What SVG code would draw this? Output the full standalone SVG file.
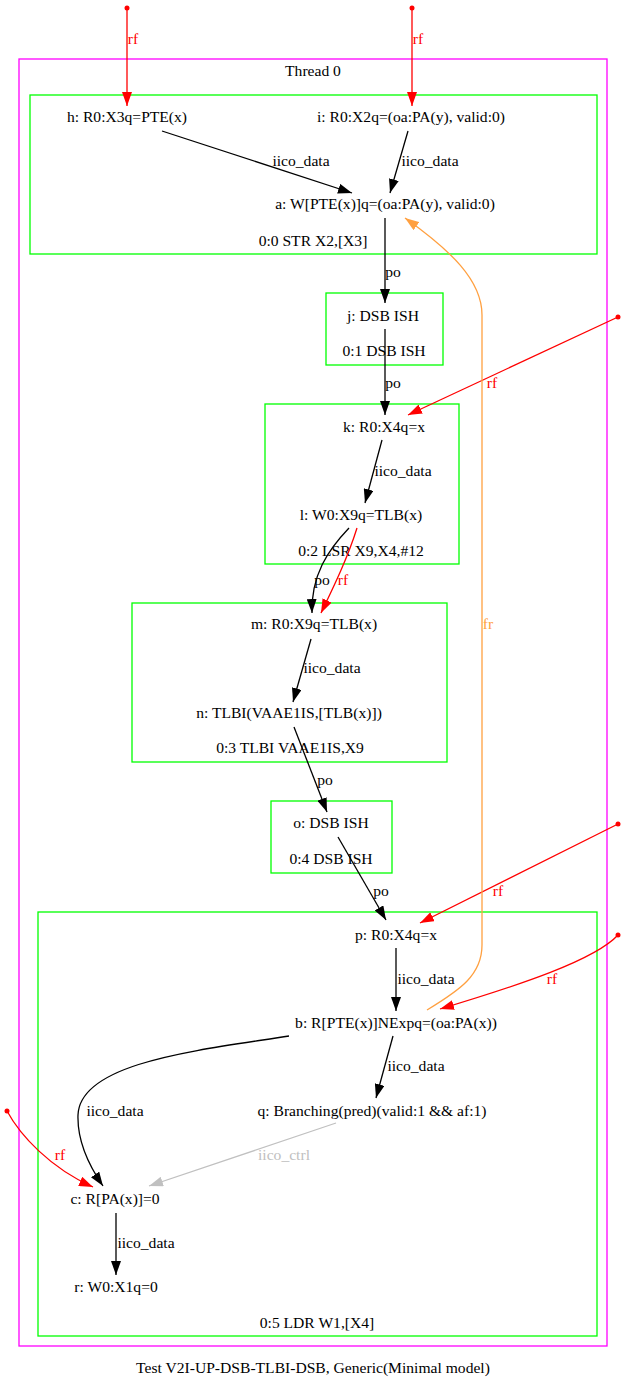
<svg xmlns="http://www.w3.org/2000/svg" width="625" height="1388" viewBox="0 0 625 1388">
<style>
text{font-family:"Liberation Serif","Times New Roman",serif;font-size:15.6px;text-anchor:middle;fill:#000}
.thread{fill:none;stroke:#ff00ff;stroke-width:1.3}
.instr{fill:none;stroke:#00ff00;stroke-width:1.3}
.e{fill:none;stroke:#000;stroke-width:1.3}
.rf{fill:none;stroke:#ff0000;stroke-width:1.3}
.fr{fill:none;stroke:#ffa040;stroke-width:1.3}
.ctrl{fill:none;stroke:#c0c0c0;stroke-width:1.3}
.lrf{fill:#ff0000}
.lfr{fill:#ffa040}
.lctrl{fill:#c0c0c0}
.dot{fill:#ff0000}
</style>
<defs>
<marker id="ak" markerUnits="userSpaceOnUse" markerWidth="14" markerHeight="10" refX="14" refY="5" orient="auto"><path d="M0,0 L14,5 L0,10 z" fill="#000"/></marker>
<marker id="ar" markerUnits="userSpaceOnUse" markerWidth="14" markerHeight="10" refX="14" refY="5" orient="auto"><path d="M0,0 L14,5 L0,10 z" fill="#ff0000"/></marker>
<marker id="ag" markerUnits="userSpaceOnUse" markerWidth="14" markerHeight="10" refX="14" refY="5" orient="auto"><path d="M0,0 L14,5 L0,10 z" fill="#c0c0c0"/></marker>
<marker id="ao" markerUnits="userSpaceOnUse" markerWidth="14" markerHeight="10" refX="14" refY="5" orient="auto"><path d="M0,0 L14,5 L0,10 z" fill="#ffa040"/></marker>
</defs>
<rect width="625" height="1388" fill="#fff"/>
<g id="thread0">
<rect class="thread" x="19" y="59" width="588" height="1287"/>
<text x="313" y="76">Thread 0</text>
</g>
<g id="instr0">
<rect class="instr" x="30" y="95" width="567" height="159"/>
<text x="313" y="246">0:0 STR X2,[X3]</text>
</g>
<g id="instr1">
<rect class="instr" x="326" y="293" width="117" height="72"/>
<text x="384" y="356">0:1 DSB ISH</text>
</g>
<g id="instr2">
<rect class="instr" x="265" y="404" width="194" height="160"/>
<text x="361" y="556">0:2 LSR X9,X4,#12</text>
</g>
<g id="instr3">
<rect class="instr" x="132" y="603" width="315" height="159"/>
<text x="290" y="753">0:3 TLBI VAAE1IS,X9</text>
</g>
<g id="instr4">
<rect class="instr" x="271" y="801" width="121" height="72"/>
<text x="331" y="864">0:4 DSB ISH</text>
</g>
<g id="instr5">
<rect class="instr" x="38" y="912" width="559" height="424"/>
<text x="317" y="1328">0:5 LDR W1,[X4]</text>
</g>
<g id="node-h"><text x="127" y="122">h: R0:X3q=PTE(x)</text></g>
<g id="node-i"><text x="411" y="122">i: R0:X2q=(oa:PA(y), valid:0)</text></g>
<g id="node-a"><text x="385" y="209">a: W[PTE(x)]q=(oa:PA(y), valid:0)</text></g>
<g id="node-j"><text x="383" y="321">j: DSB ISH</text></g>
<g id="node-k"><text x="384" y="432">k: R0:X4q=x</text></g>
<g id="node-l"><text x="361" y="520">l: W0:X9q=TLB(x)</text></g>
<g id="node-m"><text x="314" y="629">m: R0:X9q=TLB(x)</text></g>
<g id="node-n"><text x="289" y="718">n: TLBI(VAAE1IS,[TLB(x)])</text></g>
<g id="node-o"><text x="331" y="828">o: DSB ISH</text></g>
<g id="node-p"><text x="396" y="940">p: R0:X4q=x</text></g>
<g id="node-b"><text x="396" y="1028">b: R[PTE(x)]NExpq=(oa:PA(x))</text></g>
<g id="node-q"><text x="372" y="1116">q: Branching(pred)(valid:1 &amp;&amp; af:1)</text></g>
<g id="node-c"><text x="115" y="1204">c: R[PA(x)]=0</text></g>
<g id="node-r"><text x="116" y="1292">r: W0:X1q=0</text></g>
<g id="connectors">
<circle class="dot" cx="127" cy="8" r="2.5"/>
<path class="rf" d="M127,8 L127,106" marker-end="url(#ar)"/>
<text class="lrf" x="133" y="44">rf</text>
<circle class="dot" cx="412" cy="8" r="2.5"/>
<path class="rf" d="M412,8 L412,106" marker-end="url(#ar)"/>
<text class="lrf" x="418" y="44">rf</text>
<path class="e" d="M162,131 L352,193" marker-end="url(#ak)"/>
<text x="301" y="166">iico_data</text>
<path class="e" d="M408,131 L390,193" marker-end="url(#ak)"/>
<text x="430" y="166">iico_data</text>
<path class="e" d="M385,218 L385,303" marker-end="url(#ak)"/>
<text x="393" y="277">po</text>
<path class="e" d="M385,329 L385,415" marker-end="url(#ak)"/>
<text x="393" y="388">po</text>
<circle class="dot" cx="618" cy="317" r="2.5"/>
<path class="rf" d="M618,317 L408,415" marker-end="url(#ar)"/>
<text class="lrf" x="492" y="388">rf</text>
<path class="e" d="M382,440 L365,503" marker-end="url(#ak)"/>
<text x="403" y="476">iico_data</text>
<path class="e" d="M349,528 C328,550 311,575 312,613" marker-end="url(#ak)"/>
<text x="322" y="585">po</text>
<path class="rf" d="M357,528 C348,557 334,586 321,613" marker-end="url(#ar)"/>
<text class="lrf" x="343" y="585">rf</text>
<path class="e" d="M311,639 L293,702" marker-end="url(#ak)"/>
<text x="332" y="673">iico_data</text>
<path class="e" d="M294,727 L327,812" marker-end="url(#ak)"/>
<text x="325" y="785">po</text>
<path class="e" d="M338,837 L386,920" marker-end="url(#ak)"/>
<text x="381" y="896">po</text>
<circle class="dot" cx="618" cy="824" r="2.5"/>
<path class="rf" d="M618,824 L420,923" marker-end="url(#ar)"/>
<text class="lrf" x="498" y="896">rf</text>
<path class="e" d="M396,948 L396,1011" marker-end="url(#ak)"/>
<text x="426" y="984">iico_data</text>
<circle class="dot" cx="618" cy="935" r="2.5"/>
<path class="rf" d="M618,935 C595,960 520,985 440,1009" marker-end="url(#ar)"/>
<text class="lrf" x="552" y="984">rf</text>
<path class="e" d="M393,1036 L376,1098" marker-end="url(#ak)"/>
<text x="416" y="1071">iico_data</text>
<path class="e" d="M289,1036 C200,1050 80,1062 78,1115 C77,1145 92,1170 103,1186" marker-end="url(#ak)"/>
<text x="115" y="1116">iico_data</text>
<circle class="dot" cx="7" cy="1111" r="2.5"/>
<path class="rf" d="M7,1111 C20,1135 50,1168 93,1187" marker-end="url(#ar)"/>
<text class="lrf" x="60" y="1160">rf</text>
<path class="ctrl" d="M336,1123 L149,1186" marker-end="url(#ag)"/>
<text class="lctrl" x="284" y="1160">iico_ctrl</text>
<path class="e" d="M116,1213 L116,1275" marker-end="url(#ak)"/>
<text x="146" y="1248">iico_data</text>
<path class="fr" d="M427,1010 C460,990 482,975 482,945 L482,315 C482,280 450,250 405,218" marker-end="url(#ao)"/>
<text class="lfr" x="488" y="629">fr</text>
</g>
<text x="313" y="1373">Test V2I-UP-DSB-TLBI-DSB, Generic(Minimal model)</text>
</svg>
